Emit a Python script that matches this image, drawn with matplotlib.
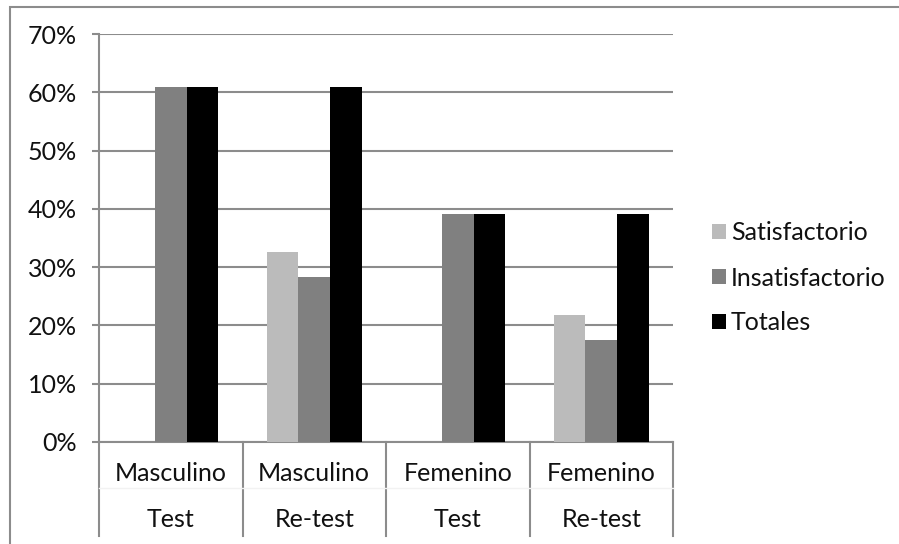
import matplotlib
matplotlib.use("Agg")
import matplotlib.pyplot as plt
from matplotlib.patches import Rectangle
from matplotlib.lines import Line2D
import matplotlib.transforms as mtransforms

plt.rcParams['font.family'] = ['Lato', 'DejaVu Sans']

groups = ["Masculino", "Masculino", "Femenino", "Femenino"]
phases = ["Test", "Re-test", "Test", "Re-test"]
series_names = ["Satisfactorio", "Insatisfactorio", "Totales"]
satisfactorio = [0.0, 0.326, 0.0, 0.217]
insatisfactorio = [0.609, 0.283, 0.391, 0.174]
totales = [0.609, 0.609, 0.391, 0.391]
yticks = [0.0, 0.1, 0.2, 0.3, 0.4, 0.5, 0.6, 0.7]
ytick_labels = ["0%", "10%", "20%", "30%", "40%", "50%", "60%", "70%"]
colors = ["#BBBBBB", "#808080", "#000000"]

W, H = 899, 544
FS = 18
fig = plt.figure(figsize=(W / 100, H / 100), dpi=100)
ax = fig.add_axes([99 / W, 1 - 441.7 / H, (673 - 99) / W, (441.7 - 34.3) / H])

grid_c = "#8C8C8C"
bw = 0.22
xs = list(range(len(groups)))
for i, (vals, c, name) in enumerate(zip([satisfactorio, insatisfactorio, totales], colors, series_names)):
    ax.bar([x + (i - 1) * bw for x in xs], vals, width=bw, color=c, label=name, zorder=3, linewidth=0)

ax.set_xlim(-0.5, len(groups) - 0.5)
ax.set_ylim(0, 0.7)
ax.set_yticks(yticks)
ax.set_yticklabels(ytick_labels, fontsize=FS, color="#111111")
ax.yaxis.grid(True, color=grid_c, linewidth=1.5, zorder=0)
ax.set_axisbelow(True)
ax.tick_params(axis='y', length=5, width=1.5, color=grid_c, pad=11)
ax.set_xticks([])
for s in ["top", "right"]:
    ax.spines[s].set_visible(False)
for s in ["left", "bottom"]:
    ax.spines[s].set_color(grid_c)
    ax.spines[s].set_linewidth(1.5)

trans = mtransforms.blended_transform_factory(ax.transData, ax.transAxes)
for b in [-0.5, 0.5, 1.5, 2.5, 3.5]:
    ax.add_line(Line2D([b, b], [0, -0.231], transform=trans, color=grid_c, linewidth=1.5, clip_on=False))
ax.add_line(Line2D([-0.5, 3.5], [-0.114, -0.114], transform=trans, color="#F2F2F2", linewidth=1, clip_on=False))
for x, g, p in zip(xs, groups, phases):
    ax.text(x, -0.077, g, transform=trans, ha="center", va="center", fontsize=FS, color="#111111")
    ax.text(x, -0.192, p, transform=trans, ha="center", va="center", fontsize=FS, color="#111111")

leg = ax.legend(loc="center left", bbox_to_anchor=(712 / W, 1 - 278 / H), bbox_transform=fig.transFigure,
                frameon=False, fontsize=FS, handlelength=0.55, handleheight=0.55, handletextpad=0.2,
                labelspacing=0.88, borderaxespad=0, borderpad=0)
for t in leg.get_texts():
    t.set_color("#111111")

fig.patches.append(Rectangle((10 / W, -0.1), 1.2, (1 - 7 / H) + 0.1, transform=fig.transFigure,
                             fill=False, edgecolor="#8C8C8C", linewidth=1.5))

fig.savefig("out.png", dpi=100)
